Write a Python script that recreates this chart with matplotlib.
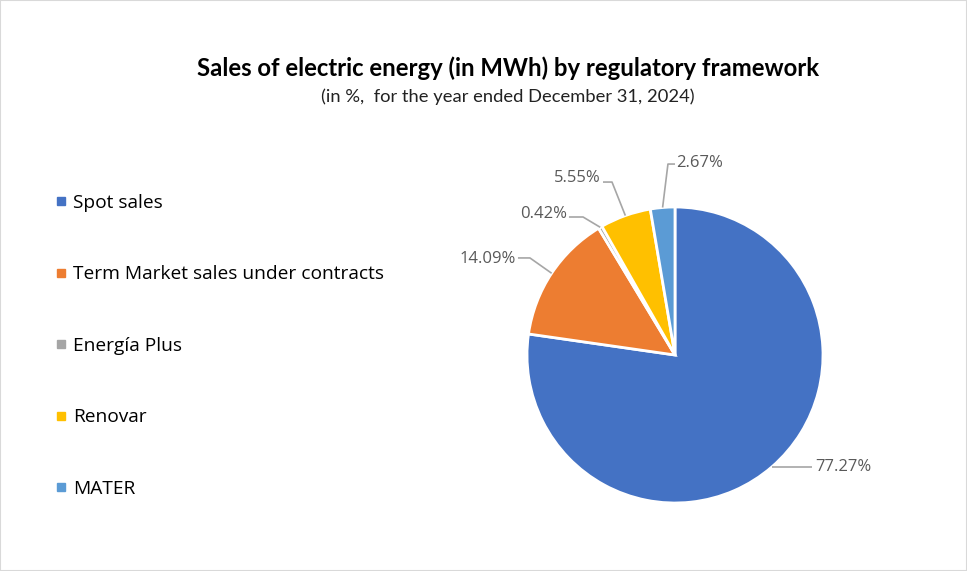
import matplotlib
matplotlib.use("Agg")
import matplotlib.pyplot as plt
from matplotlib.lines import Line2D
from matplotlib.patches import Rectangle
import numpy as np

categories = ["Spot sales", "Term Market sales under contracts", "Energía Plus",
              "Renovar", "MATER"]
shares = [77.27, 14.09, 0.42, 5.55, 2.67]
colors = ["#4472C4", "#ED7D31", "#A5A5A5", "#FFC000", "#5B9BD5"]

# data label placement, in pie units (radius ~1, centre at 0,0)
label_xy = [(0.933, -0.745), (-1.06, 0.643), (-0.72, 0.937), (-0.493, 1.183), (0.007, 1.283)]
label_ha = ["left", "right", "right", "right", "left"]
# leader lines: elbow x, end x, y of the horizontal piece
leader_elbow_x = [None, -0.967, -0.613, -0.42, -0.047]
leader_end_x = [0.913, -1.047, -0.707, -0.48, 0.0]
leader_y = [None, 0.647, 0.92, 1.153, 1.273]

W, H = 967, 571
fig = plt.figure(figsize=(W / 100, H / 100), dpi=100)
fig.patches.append(Rectangle((0, 0), 1, 1, transform=fig.transFigure,
                             fill=False, edgecolor="#D9D9D9", linewidth=1.5))

cx, cy, r = 675, 355, 148
half = 150
ax = fig.add_axes([(cx - half) / W, (H - cy - half) / H, 2 * half / W, 2 * half / H])
R = r / half
wedges, _ = ax.pie(shares, colors=colors, startangle=90, counterclock=False,
                   radius=R, wedgeprops=dict(edgecolor="white", linewidth=2))
ax.set_xlim(-1, 1)
ax.set_ylim(-1, 1)
ax.set_aspect("equal")
ax.axis("off")

for i, (w, v) in enumerate(zip(wedges, shares)):
    ang = np.deg2rad((w.theta1 + w.theta2) / 2)
    px, py = np.cos(ang) * R, np.sin(ang) * R
    ly = leader_y[i] if leader_y[i] is not None else py
    ex = leader_elbow_x[i] if leader_elbow_x[i] is not None else px
    ax.plot([px, ex, leader_end_x[i]], [py, ly, ly], color="#A6A6A6", lw=1.2,
            clip_on=False, solid_capstyle="butt")
    tx, ty = label_xy[i]
    ax.text(tx, ty, f"{v:.2f}%", ha=label_ha[i], va="center", fontsize=12,
            color="#595959", family="Open Sans")

fig.text(508 / W, 1 - 68 / H, "Sales of electric energy (in MWh) by regulatory framework",
         ha="center", va="center", fontsize=17.2, fontweight="bold", family="Lato")
fig.text(508 / W, 1 - 97 / H, "(in %,  for the year ended December 31, 2024)",
         ha="center", va="center", fontsize=13.2, family="Lato", color="#222222")

handles = [Line2D([], [], linestyle="none", marker="s", markersize=5.8,
                  markerfacecolor=c, markeredgecolor=c) for c in colors]
fig.legend(handles, categories, loc="upper left", bbox_to_anchor=(56.7 / W, 1 - 194 / H),
           frameon=False, prop=dict(family="Open Sans", size=13.8),
           labelspacing=2.79, handlelength=0.5, handletextpad=0.35,
           borderpad=0, borderaxespad=0)

fig.savefig("out.png", dpi=100)
